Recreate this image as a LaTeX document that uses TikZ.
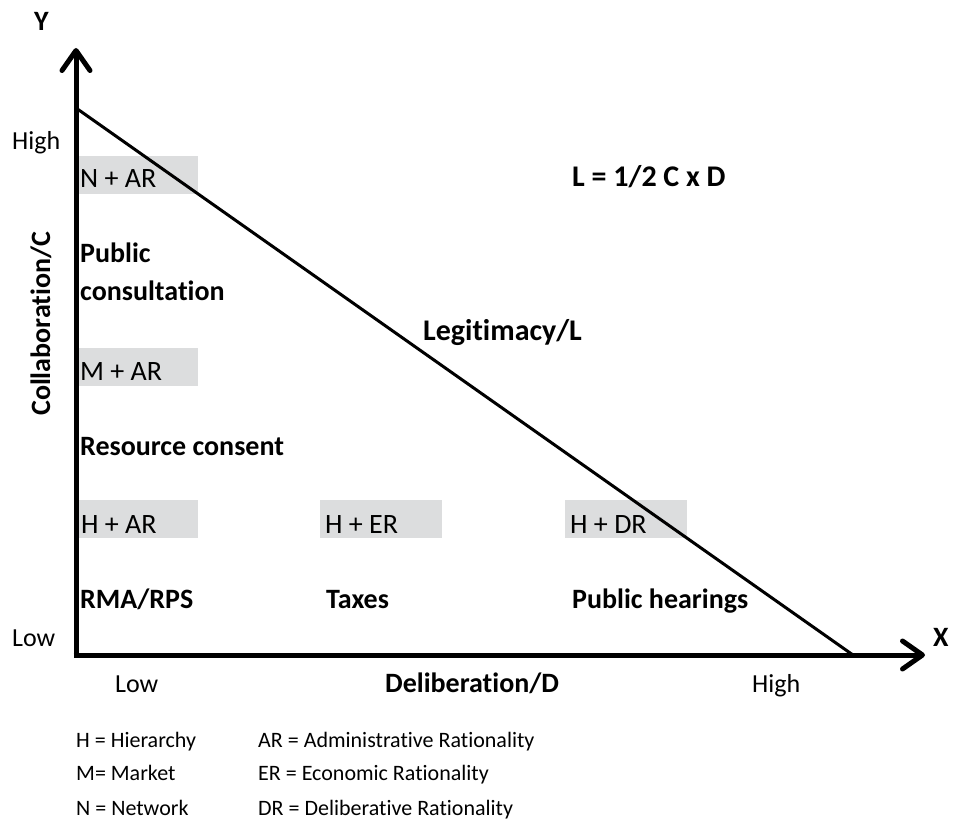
\documentclass[tikz,border=0pt]{standalone}
\usepackage{fontspec}
\setmainfont[Ligatures=NoCommon]{Carlito}
\usetikzlibrary{arrows.meta}
\definecolor{boxgray}{HTML}{DCDDDE}
\begin{document}
\begin{tikzpicture}[x=1pt,y=-1pt,
  lbl/.style={anchor=base west,inner sep=0pt,font=\fontsize{26}{30}\selectfont},
  boxlbl/.style={anchor=base west,inner sep=0pt,font=\fontsize{28}{32}\selectfont},
  blbl/.style={anchor=base west,inner sep=0pt,font=\fontsize{28}{32}\selectfont\bfseries},
  bigblbl/.style={anchor=base west,inner sep=0pt,font=\fontsize{30}{34}\selectfont\bfseries},
  leg/.style={anchor=base west,inner sep=0pt,font=\fontsize{22}{26}\selectfont},
  graybox/.style={anchor=north west,fill=boxgray,draw=none,minimum width=122pt,minimum height=38pt,inner sep=0pt},
  axis/.style={line width=5pt,-{Straight Barb[length=20pt,width=28pt,round]}},
  diag/.style={line width=3pt}]
\useasboundingbox (0,0) rectangle (953,834);
% gray boxes
\node[graybox] (bnar) at (76,156) {};
\node[graybox] (bmar) at (76,348) {};
\node[graybox] (bhar) at (76,500) {};
\node[graybox] (bher) at (320,500) {};
\node[graybox] (bhdr) at (565,500) {};
% coordinates
\coordinate (O) at (76,655);
\coordinate (ytip) at (76,48);
\coordinate (xtip) at (925,655);
\coordinate (ltop) at (76,108);
\coordinate (lbot) at (853,655);
\draw[diag] (ltop) -- (lbot);
\draw[axis] ([yshift=-2.5pt]O) -- (ytip);
\draw[axis] ([xshift=-2.5pt]O) -- (xtip);
% box labels
\node[boxlbl] (tnar) at (80,188) {N + AR};
\node[boxlbl] (tmar) at (80,380) {M + AR};
\node[boxlbl] (thar) at (81,533) {H + AR};
\node[boxlbl] (ther) at (325,533) {H + ER};
\node[boxlbl] (thdr) at (570,533) {H + DR};
% bold labels
\node[blbl] (pub) at (80,263) {Public};
\node[blbl] (cons) at (80,301) {consultation};
\node[blbl] (res) at (80,455) {Resource consent};
\node[blbl] (rma) at (80,608) {RMA/RPS};
\node[blbl] (tax) at (326,608) {Taxes};
\node[blbl] (ph) at (572,608) {Public hearings};
\node[bigblbl] (legit) at (423,340) {Legitimacy/L};
\node[bigblbl] (form) at (572,187) {L = 1/2 C x D};
\node[blbl] (delib) at (385,692) {Deliberation/D};
\node[blbl] (Y) at (34,31) {Y};
\node[blbl] (X) at (933,646) {X};
\node[blbl,rotate=90] (collab) at (50,416) {Collaboration/C};
% axis ticks
\node[lbl] (yhigh) at (12,150) {High};
\node[lbl] (ylow) at (12,646) {Low};
\node[lbl] (xlow) at (115,692) {Low};
\node[lbl] (xhigh) at (752,692) {High};
% legend
\node[leg] (l1) at (76,747) {H = Hierarchy};
\node[leg] (l2) at (76,780) {M= Market};
\node[leg] (l3) at (76,815) {N = Network};
\node[leg] (r1) at (258,747) {AR = Administrative Rationality};
\node[leg] (r2) at (258,780) {ER = Economic Rationality};
\node[leg] (r3) at (258,815) {DR = Deliberative Rationality};
\end{tikzpicture}
\end{document}
